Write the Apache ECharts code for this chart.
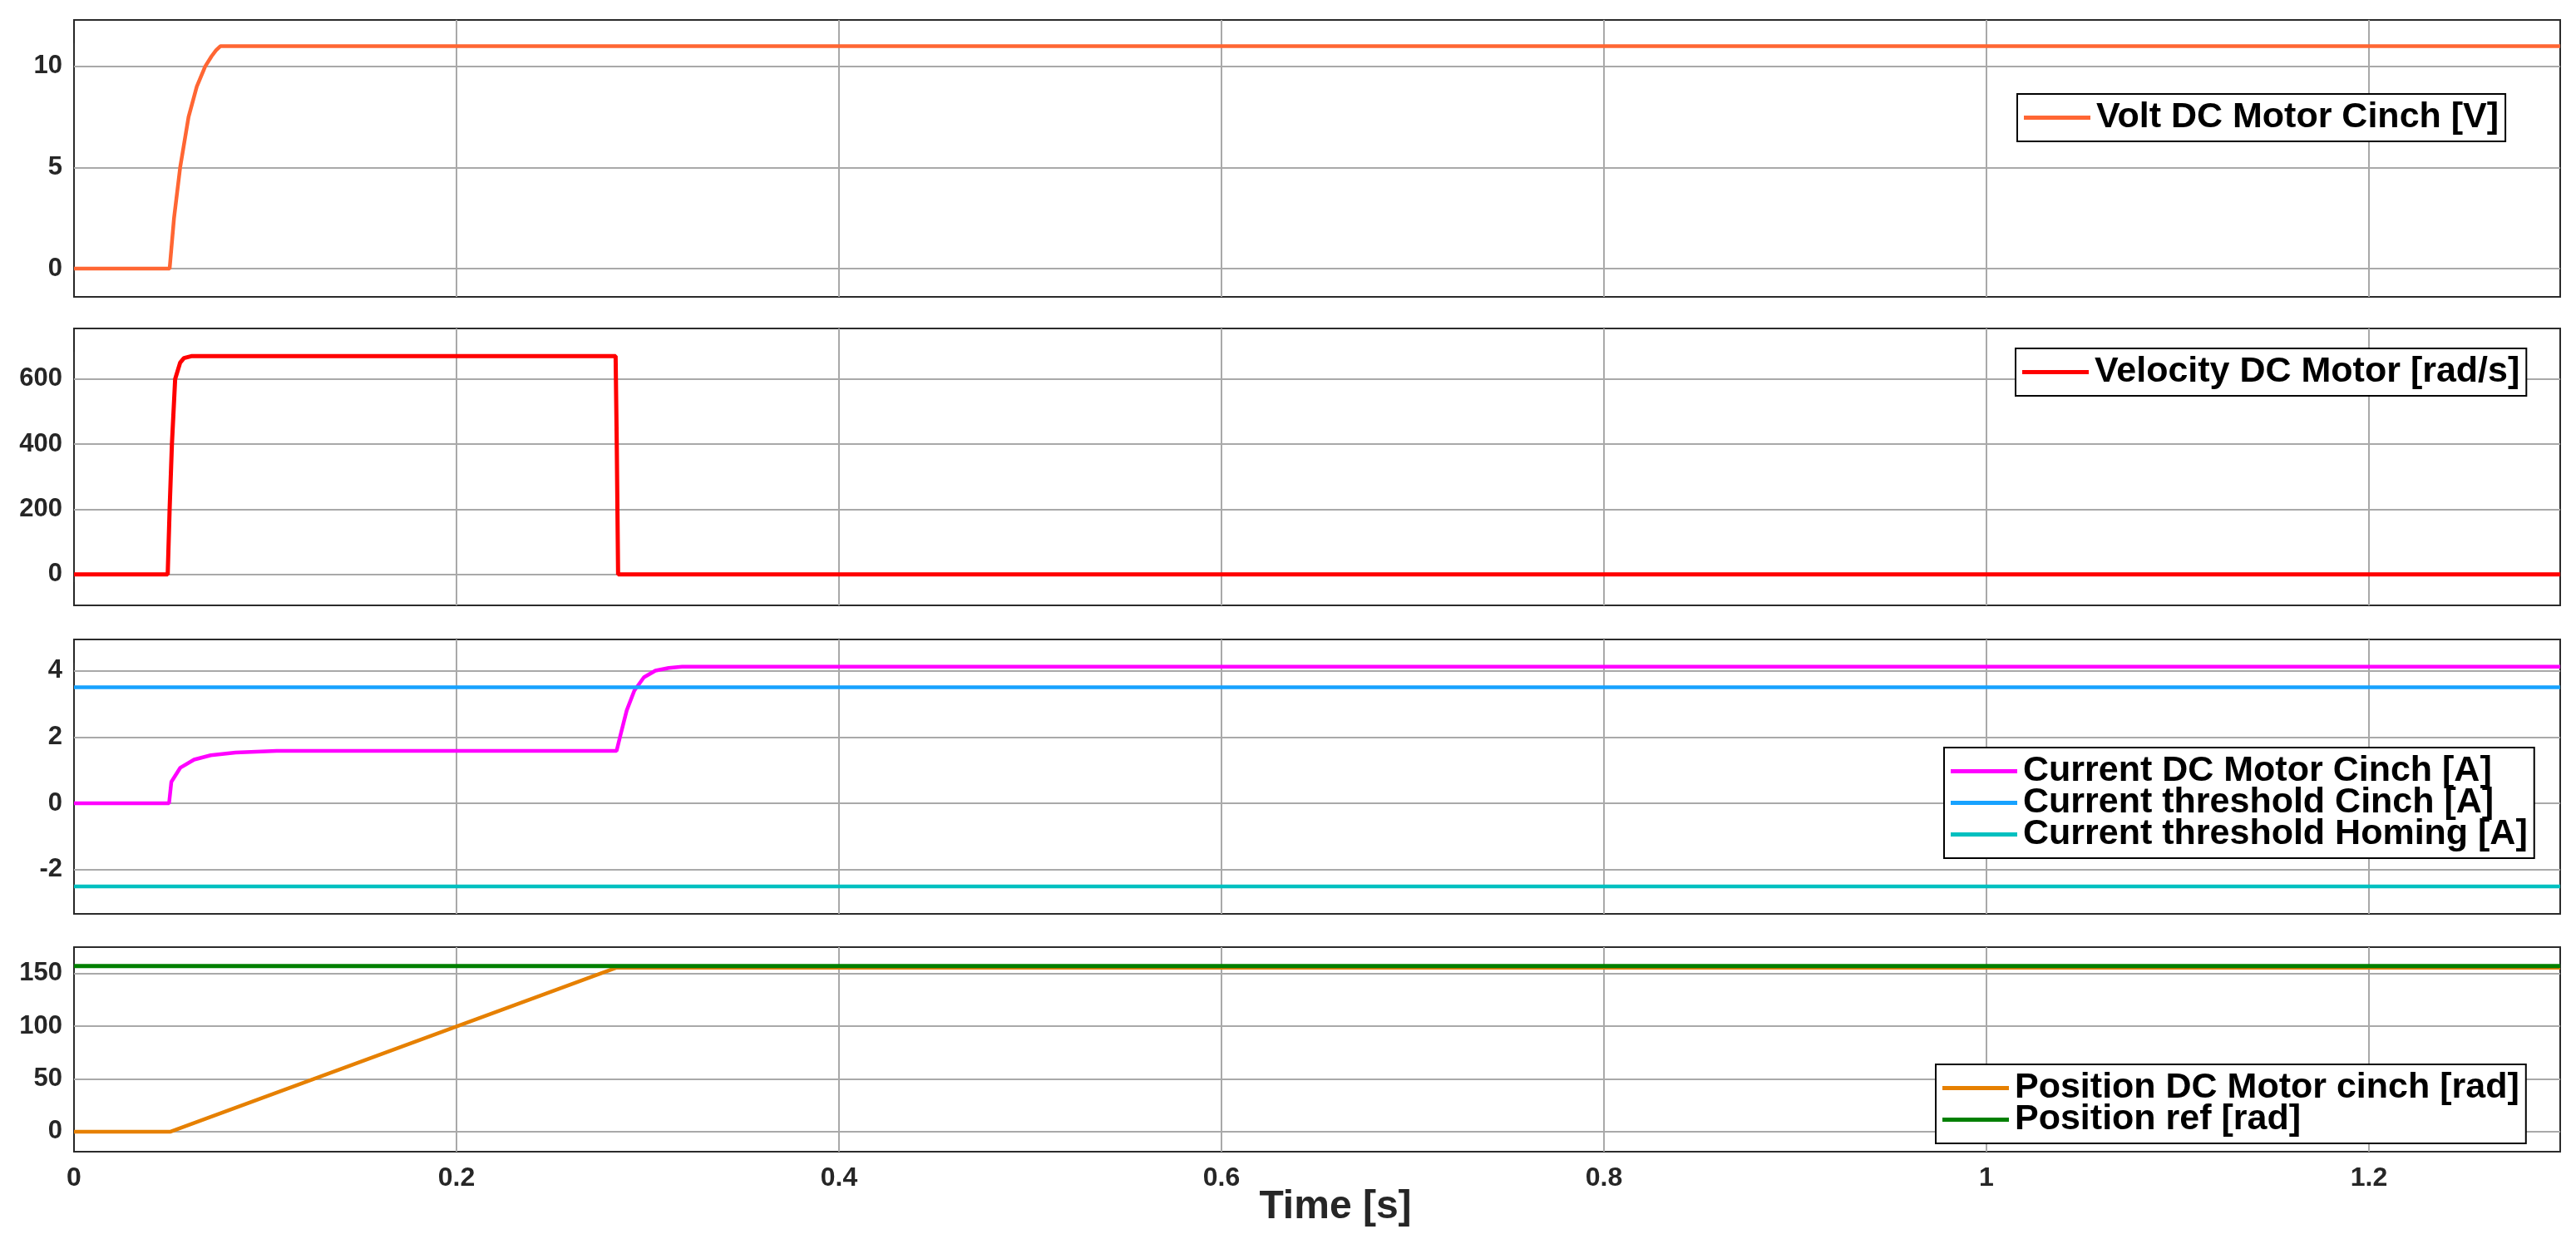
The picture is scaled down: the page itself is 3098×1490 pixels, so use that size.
<!DOCTYPE html>
<html>
<head>
<meta charset="utf-8">
<script src="https://cdn.jsdelivr.net/npm/echarts@6/dist/echarts.min.js"></script>
<style>
html,body{margin:0;padding:0;background:#fff;}
#chart{width:3098px;height:1490px;}
</style>
</head>
<body>
<div id="chart"></div>
<script>
// ---------- DATA ----------
const xTicks = [0, 0.2, 0.4, 0.6, 0.8, 1, 1.2];
const xTickLabels = ['0', '0.2', '0.4', '0.6', '0.8', '1', '1.2'];
const xLabel = 'Time [s]';

const yTicks1 = [0, 5, 10];
const yTicks2 = [0, 200, 400, 600];
const yTicks3 = [-2, 0, 2, 4];
const yTicks4 = [0, 50, 100, 150];

const voltT = [0, 0.05, 0.0523, 0.0555, 0.0599, 0.0642, 0.0686, 0.0719, 0.0743, 0.0765, 1.3];
const voltV = [0, 0, 2.5, 5, 7.5, 9, 10, 10.5, 10.8, 11, 11];

const velT = [0, 0.049, 0.0500, 0.0512, 0.0529, 0.0555, 0.0575, 0.0613, 0.2832, 0.2838, 0.2845, 1.3];
const velV = [0, 0, 200, 400, 600, 650, 664, 670, 670, 400, 0, 0];

const curT = [0, 0.0497, 0.0509, 0.0555, 0.0628, 0.0715, 0.0845, 0.106, 0.2837, 0.2855, 0.289, 0.293, 0.298, 0.304, 0.311, 0.318, 1.3];
const curV = [0, 0, 0.65, 1.07, 1.32, 1.45, 1.53, 1.58, 1.58, 2.0, 2.8, 3.4, 3.8, 4.0, 4.08, 4.12, 4.12];

const thrCinchT = [0, 1.3];
const thrCinchV = [3.5, 3.5];
const thrHomingT = [0, 1.3];
const thrHomingV = [-2.5, -2.5];

const posT = [0, 0.0505, 0.2837, 1.3];
const posV = [0, 0, 155.5, 155.5];
const posRefT = [0, 1.3];
const posRefV = [157, 157];

const names = {
  volt: 'Volt DC Motor Cinch [V]',
  vel: 'Velocity DC Motor [rad/s]',
  cur: 'Current DC Motor Cinch [A]',
  thrC: 'Current threshold Cinch [A]',
  thrH: 'Current threshold Homing [A]',
  pos: 'Position DC Motor cinch [rad]',
  ref: 'Position ref [rad]'
};

// ---------- LAYOUT ----------
const panels = [
  {top: 24,   height: 333, min: -1.4,  max: 12.3, ticks: yTicks1},
  {top: 395,  height: 333, min: -95,   max: 755,  ticks: yTicks2},
  {top: 769,  height: 330, min: -3.33, max: 4.94, ticks: yTicks3},
  {top: 1139, height: 246, min: -19,   max: 175,  ticks: yTicks4}
];
const legendPos = [
  {left: 2426, top: 113},
  {left: 2424, top: 419},
  {left: 2338, top: 899},
  {left: 2328, top: 1280}
];

const FONT = 'Liberation Sans, Arial, Helvetica, sans-serif';
const TL = 28;
const tickStyle = {color: '#262626', width: 2};
const zip = (t, v) => t.map((x, i) => [x, v[i]]);

const grids = [], xAxes = [], yAxes = [], series = [], legends = [];
const noLine = {show: false, onZero: false}, noSplit = {show: false}, noLabel = {show: false};

panels.forEach((p, i) => {
  grids.push({left: 89, right: 19, top: p.top, height: p.height, show: true,
    borderColor: '#2b2b2b', borderWidth: 2, backgroundColor: '#fff', containLabel: false});
  const isLast = i === panels.length - 1;
  const xBase = xAxes.length, yBase = yAxes.length;
  // bottom x axis: labels (last panel only) + inward ticks
  xAxes.push({type: 'value', gridIndex: i, min: 0, max: 1.3, position: 'bottom',
    axisLine: noLine, splitLine: noSplit,
    axisTick: {show: true, inside: true, length: TL, lineStyle: tickStyle, customValues: xTicks},
    axisLabel: {show: isLast, customValues: xTicks, margin: 16,
      formatter: v => { const k = xTicks.findIndex(t => Math.abs(t - v) < 1e-9); return k >= 0 ? xTickLabels[k] : ''; },
      fontSize: 32, fontWeight: 'bold', color: '#262626', fontFamily: FONT}});
  // top x axis: inward ticks only
  xAxes.push({type: 'value', gridIndex: i, min: 0, max: 1.3, position: 'top',
    axisLine: noLine, splitLine: noSplit, axisLabel: noLabel,
    axisTick: {show: true, inside: true, length: TL, lineStyle: tickStyle, customValues: xTicks}});
  // left y axis: labels + inward ticks
  yAxes.push({type: 'value', gridIndex: i, min: p.min, max: p.max, position: 'left',
    axisLine: noLine, splitLine: noSplit,
    axisTick: {show: true, inside: true, length: TL, lineStyle: tickStyle, customValues: p.ticks},
    axisLabel: {show: true, customValues: p.ticks, margin: 14, fontSize: 31, fontWeight: 'bold',
      color: '#262626', fontFamily: FONT}});
  // right y axis: inward ticks only
  yAxes.push({type: 'value', gridIndex: i, min: p.min, max: p.max, position: 'right',
    axisLine: noLine, splitLine: noSplit, axisLabel: noLabel,
    axisTick: {show: true, inside: true, length: TL, lineStyle: tickStyle, customValues: p.ticks}});
  p.xIdx = xBase; p.yIdx = yBase;

  // grid lines via markLine
  series.push({type: 'line', xAxisIndex: xBase, yAxisIndex: yBase, data: [], z: 1, silent: true,
    markLine: {silent: true, animation: false, z: 1, symbol: ['none', 'none'], label: {show: false},
      lineStyle: {color: '#a9a9a9', width: 2, type: 'solid'},
      data: xTicks.filter(v => v > 0).map(v => ({xAxis: v})).concat(p.ticks.map(v => ({yAxis: v})))}});
});

function lineSeries(name, t, v, panel, color, width) {
  return {name, type: 'line', xAxisIndex: panels[panel].xIdx, yAxisIndex: panels[panel].yIdx,
    data: zip(t, v), showSymbol: false, symbol: 'none', z: 3,
    itemStyle: {color}, lineStyle: {color, width}, animation: false};
}

series.push(lineSeries(names.volt, voltT, voltV, 0, '#FF6633', 4.5));
series.push(lineSeries(names.vel, velT, velV, 1, '#FF0000', 5));
series.push(lineSeries(names.cur, curT, curV, 2, '#FF00FF', 4.5));
series.push(lineSeries(names.thrC, thrCinchT, thrCinchV, 2, '#17A2FF', 4.5));
series.push(lineSeries(names.thrH, thrHomingT, thrHomingV, 2, '#00C0C0', 4.5));
series.push(lineSeries(names.pos, posT, posV, 3, '#E68000', 4.5));
series.push(lineSeries(names.ref, posRefT, posRefV, 3, '#008000', 5));

const legendGroups = [[names.volt], [names.vel], [names.cur, names.thrC, names.thrH], [names.pos, names.ref]];
legendGroups.forEach((g, i) => {
  legends.push({data: g, orient: 'vertical', left: legendPos[i].left, top: legendPos[i].top, z: 20,
    backgroundColor: '#fff', borderColor: '#000', borderWidth: 2, borderRadius: 0,
    padding: [7, 8, 7, 8], itemGap: -5, itemWidth: 80, itemHeight: 5, icon: 'rect',
    selectedMode: false,
    textStyle: {fontSize: 43, fontWeight: 'bold', color: '#000', fontFamily: FONT, padding: [0, 0, 0, 2]}});
});

const chart = echarts.init(document.getElementById('chart'), null, {renderer: 'canvas'});
chart.setOption({
  animation: false,
  backgroundColor: '#fff',
  grid: grids, xAxis: xAxes, yAxis: yAxes, series, legend: legends,
  graphic: [{type: 'text', x: 1606, y: 1452, style: {text: xLabel, fill: '#262626',
    font: 'bold 48px ' + FONT, textAlign: 'center', textVerticalAlign: 'middle'}}]
});
</script>
</body>
</html>
